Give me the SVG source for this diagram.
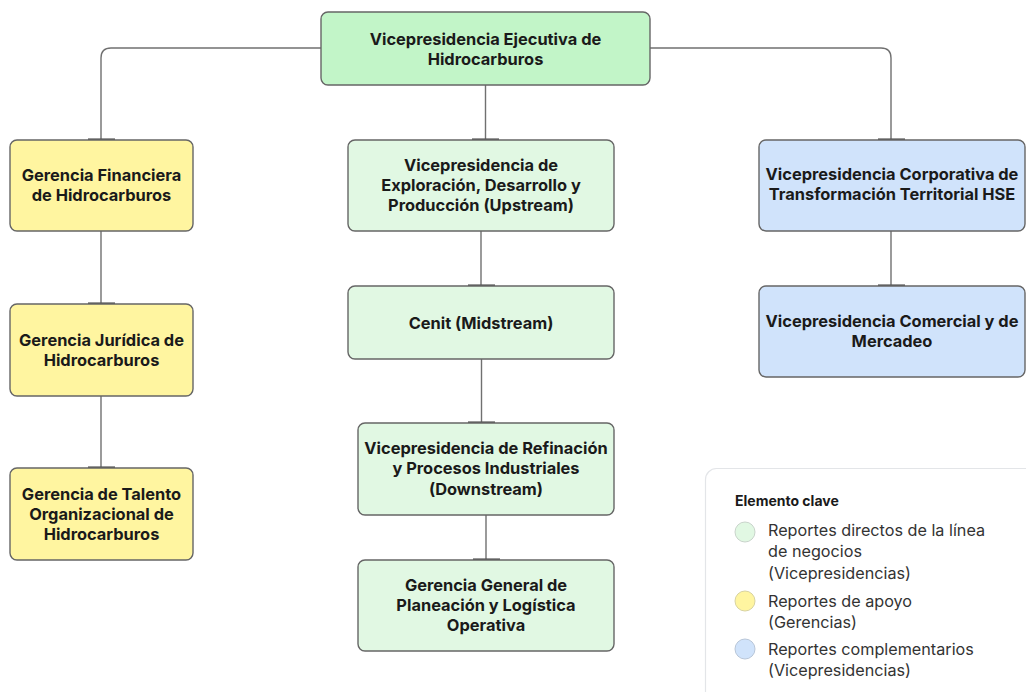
<svg xmlns="http://www.w3.org/2000/svg" width="1026" height="692" viewBox="0 0 1026 692">
  <style>
    .node { stroke: #666666; stroke-width: 1.4; }
    .exec { fill: #c2f5c8; }
    .line { fill: #e1f8e3; }
    .support { fill: #fff5a0; }
    .comp { fill: #d0e3fb; }
    .label { font-family: Inter, "Liberation Sans", sans-serif; font-weight: 700; font-size: 16.4px; fill: #1a1a1a; text-anchor: middle; }
    .conn { fill: none; stroke: #707070; stroke-width: 1.4; }
    .tick { stroke: #555555; stroke-width: 2.2; }
    .legend-title { font-family: Inter, "Liberation Sans", sans-serif; font-weight: 700; font-size: 14px; fill: #1a1a1a; }
    .legend-text { font-family: Inter, "Liberation Sans", sans-serif; font-size: 16.2px; fill: #333333; }
  </style>

  <rect width="1026" height="692" fill="#ffffff"/>

  <!-- connectors -->
  <g id="connectors">
    <path class="conn" d="M321 48 H111 Q101 48 101 58 V140"/>
    <path class="conn" d="M650 48 H881 Q891 48 891 58 V140"/>
    <path class="conn" d="M485.5 85 V140"/>
    <path class="conn" d="M101 231 V304"/>
    <path class="conn" d="M101 396 V468"/>
    <path class="conn" d="M481 231 V286"/>
    <path class="conn" d="M481.5 359 V423"/>
    <path class="conn" d="M486 515 V560"/>
    <path class="conn" d="M891 231 V286"/>
    <line class="tick" x1="88" y1="139.5" x2="115" y2="139.5"/>
    <line class="tick" x1="472" y1="139.5" x2="499" y2="139.5"/>
    <line class="tick" x1="878" y1="139.5" x2="905" y2="139.5"/>
    <line class="tick" x1="88" y1="303.5" x2="115" y2="303.5"/>
    <line class="tick" x1="88" y1="467.5" x2="115" y2="467.5"/>
    <line class="tick" x1="468" y1="285.5" x2="495" y2="285.5"/>
    <line class="tick" x1="468" y1="422.5" x2="495" y2="422.5"/>
    <line class="tick" x1="473" y1="559.5" x2="500" y2="559.5"/>
    <line class="tick" x1="878" y1="285.5" x2="905" y2="285.5"/>
  </g>

  <g id="vp-ejecutiva">
    <rect class="node exec" x="321" y="12" width="329" height="73" rx="7"/>
    <text class="label" x="485.5" y="45">Vicepresidencia Ejecutiva de</text>
    <text class="label" x="485.5" y="65">Hidrocarburos</text>
  </g>

  <g id="gerencia-financiera">
    <rect class="node support" x="10" y="140" width="183" height="91" rx="7"/>
    <text class="label" x="101.5" y="181">Gerencia Financiera</text>
    <text class="label" x="101.5" y="201">de Hidrocarburos</text>
  </g>

  <g id="gerencia-juridica">
    <rect class="node support" x="10" y="304" width="183" height="92" rx="7"/>
    <text class="label" x="101.5" y="345.5">Gerencia Jurídica de</text>
    <text class="label" x="101.5" y="365.5">Hidrocarburos</text>
  </g>

  <g id="gerencia-talento">
    <rect class="node support" x="10" y="468" width="183" height="92" rx="7"/>
    <text class="label" x="101.5" y="500">Gerencia de Talento</text>
    <text class="label" x="101.5" y="520">Organizacional de</text>
    <text class="label" x="101.5" y="540">Hidrocarburos</text>
  </g>

  <g id="vp-upstream">
    <rect class="node line" x="348" y="140" width="266" height="91" rx="7"/>
    <text class="label" x="481" y="171">Vicepresidencia de</text>
    <text class="label" x="481" y="191">Exploración, Desarrollo y</text>
    <text class="label" x="481" y="211">Producción (Upstream)</text>
  </g>

  <g id="cenit-midstream">
    <rect class="node line" x="348" y="286" width="266" height="73" rx="7"/>
    <text class="label" x="481" y="329">Cenit (Midstream)</text>
  </g>

  <g id="vp-downstream">
    <rect class="node line" x="358" y="423" width="256" height="92" rx="7"/>
    <text class="label" x="486" y="454">Vicepresidencia de Refinación</text>
    <text class="label" x="486" y="474">y Procesos Industriales</text>
    <text class="label" x="486" y="494.5">(Downstream)</text>
  </g>

  <g id="gerencia-planeacion">
    <rect class="node line" x="358" y="560" width="256" height="91" rx="7"/>
    <text class="label" x="486" y="590.5">Gerencia General de</text>
    <text class="label" x="486" y="611">Planeación y Logística</text>
    <text class="label" x="486" y="631">Operativa</text>
  </g>

  <g id="vp-corporativa">
    <rect class="node comp" x="759" y="140" width="266" height="91" rx="7"/>
    <text class="label" x="892" y="180">Vicepresidencia Corporativa de</text>
    <text class="label" x="892" y="200">Transformación Territorial HSE</text>
  </g>

  <g id="vp-comercial">
    <rect class="node comp" x="759" y="286" width="266" height="91" rx="7"/>
    <text class="label" x="892" y="327">Vicepresidencia Comercial y de</text>
    <text class="label" x="892" y="347">Mercadeo</text>
  </g>

  <!-- key -->
  <g id="legend">
    <rect x="705.5" y="468.5" width="340" height="240" rx="11" fill="#ffffff" stroke="#e3e5e8" stroke-width="1.2"/>
    <text class="legend-title" x="735" y="506">Elemento clave</text>
    <circle cx="745" cy="532" r="10" fill="#e1f8e3" stroke="#c9d4cb" stroke-width="1"/>
    <text class="legend-text" x="768" y="535.5">Reportes directos de la línea</text>
    <text class="legend-text" x="768" y="557">de negocios</text>
    <text class="legend-text" x="768" y="578.5">(Vicepresidencias)</text>
    <circle cx="745" cy="601" r="10" fill="#fff5a0" stroke="#d8d3a0" stroke-width="1"/>
    <text class="legend-text" x="768" y="606.5">Reportes de apoyo</text>
    <text class="legend-text" x="768" y="628">(Gerencias)</text>
    <circle cx="745" cy="649" r="10" fill="#d0e3fb" stroke="#b8c6d8" stroke-width="1"/>
    <text class="legend-text" x="768" y="654.5">Reportes complementarios</text>
    <text class="legend-text" x="768" y="676">(Vicepresidencias)</text>
  </g>
</svg>
